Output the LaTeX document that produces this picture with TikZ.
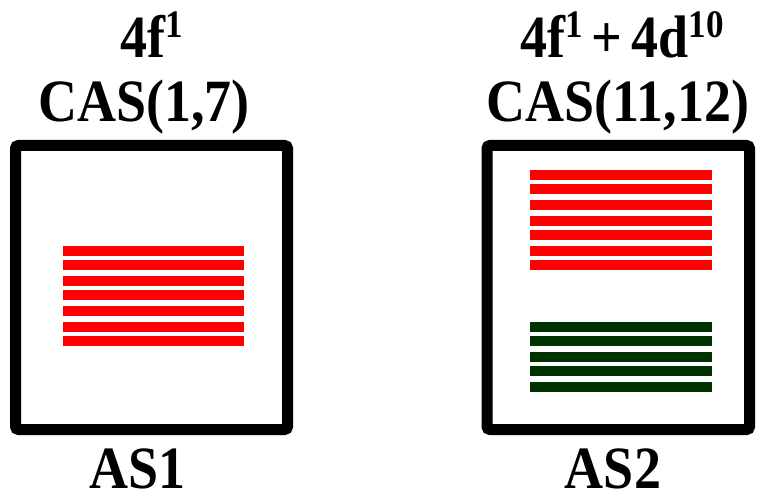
\documentclass[tikz,border=0pt]{standalone}
\usepackage{fontspec}
\setmainfont{Liberation Serif}
\newcommand{\sq}[1]{\scalebox{0.9}[1]{#1}}
\newcommand{\sups}[1]{\raisebox{0.34em}{\fontsize{39}{39}\selectfont #1}}
\definecolor{barred}{RGB}{255,0,0}
\definecolor{bargreen}{RGB}{0,51,0}
\tikzset{
  lbl/.style={anchor=base, inner sep=0pt, font=\fontsize{60}{72}\selectfont\bfseries},
  frame/.style={draw=black, line width=11pt, rounded corners=3pt},
  redbar/.style={fill=barred},
  greenbar/.style={fill=bargreen}
}
\begin{document}
\begin{tikzpicture}[x=1pt,y=-1pt]
\useasboundingbox (0,0) rectangle (760,497);
% frames
\draw[frame] (15.5,145.5) rectangle (287.5,429.5);
\draw[frame] (487,145.5) rectangle (749.5,429.5);
% left red bars
\foreach \t in {246,260,276,290,306,322,336}
  \fill[redbar] (63,\t) rectangle (244,\t+10);
% right red bars
\foreach \t in {170,184,200,216,230,246,260}
  \fill[redbar] (530,\t) rectangle (712,\t+10);
% right green bars
\foreach \t in {322,336,352,366,382}
  \fill[greenbar] (530,\t) rectangle (712,\t+10);
% labels
\node[lbl] (t1) at (152,58) {\sq{4f\sups{1}}};
\node[lbl] (c1) at (144,122) {\sq{CAS(1,7)}};
\node[lbl] (t2) at (622,58) {\sq{4f\sups{1}\,+\,4d\sups{10}}};
\node[lbl] (c2) at (618,122) {\sq{CAS(11,12)}};
\node[lbl] (a1) at (138,488) {\sq{AS1}};
\node[lbl] (a2) at (613,488) {\sq{AS2}};
\end{tikzpicture}
\end{document}
